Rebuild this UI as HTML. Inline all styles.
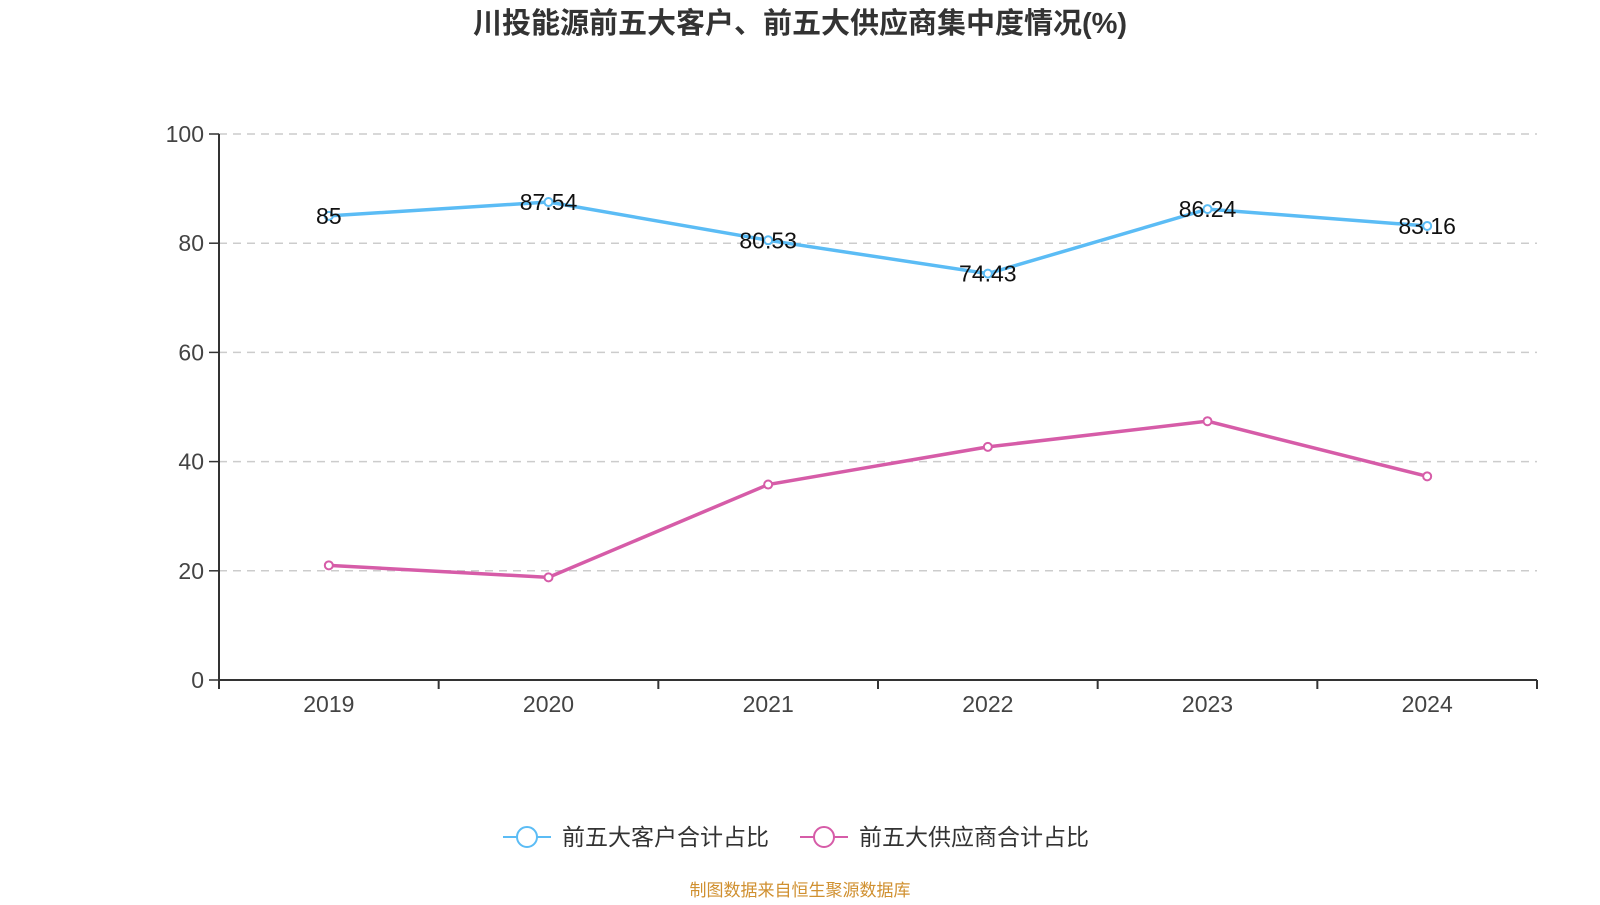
<!DOCTYPE html>
<html><head><meta charset="utf-8"><style>
body{margin:0;background:#fff;font-family:"Liberation Sans","Noto Sans CJK SC",sans-serif}
</style></head><body>
<svg id="c" width="1600" height="900" xmlns="http://www.w3.org/2000/svg">
<text x="800" y="33" text-anchor="middle" font-size="29" font-weight="bold" fill="#333" font-family="Liberation Sans,Noto Sans CJK SC,sans-serif">川投能源前五大客户、前五大供应商集中度情况(%)</text>
<g id="grid"></g><g id="axes"></g><g id="series"></g>
<g>
<line x1="503" y1="837" x2="551" y2="837" stroke="#5bbcf5" stroke-width="2"/>
<circle cx="527" cy="837" r="10" fill="#fff" stroke="#5bbcf5" stroke-width="2"/>
<text x="562" y="845" font-size="23" fill="#333" font-family="Liberation Sans,Noto Sans CJK SC,sans-serif">前五大客户合计占比</text>
<line x1="800" y1="837" x2="848" y2="837" stroke="#d65ca8" stroke-width="2"/>
<circle cx="824" cy="837" r="10" fill="#fff" stroke="#d65ca8" stroke-width="2"/>
<text x="859" y="845" font-size="23" fill="#333" font-family="Liberation Sans,Noto Sans CJK SC,sans-serif">前五大供应商合计占比</text>
</g>
<text x="800" y="896" text-anchor="middle" font-size="17" fill="#d09030" font-family="Liberation Sans,Noto Sans CJK SC,sans-serif">制图数据来自恒生聚源数据库</text>
</svg>
<script>
const categories=["2019","2020","2021","2022","2023","2024"];
const customers=[85,87.54,80.53,74.43,86.24,83.16];
const suppliers=[21.0,18.8,35.8,42.7,47.4,37.3];
const yTicks=[0,20,40,60,80,100];
const NS="http://www.w3.org/2000/svg";
const L=219,R=1537,T=134,B=680;
const bw=(R-L)/categories.length;
const xs=i=>L+bw*(i+0.5);
const ys=v=>B-(v/100)*(B-T);
function mk(tag,attrs,parent,txt){const e=document.createElementNS(NS,tag);for(const k in attrs)e.setAttribute(k,attrs[k]);if(txt!==undefined)e.textContent=txt;document.getElementById(parent).appendChild(e);return e;}
const F="Liberation Sans,Noto Sans CJK SC,sans-serif";
yTicks.forEach(t=>{
  if(t>0){const g=mk('line',{x1:L,x2:R,y1:ys(t),y2:ys(t),stroke:'#ccc','stroke-width':1.5,'stroke-dasharray':'8,6'},'grid');
  
  }
  const tk=mk('line',{x1:L-10,x2:L,y1:ys(t),y2:ys(t),stroke:'#333','stroke-width':1.5},'axes');
  
  
  const lb=mk('text',{x:L-15,y:ys(t)+8,'text-anchor':'end','font-size':23,fill:'#444','font-family':F},'axes',String(t));
  
  
});
const ya=mk('line',{x1:L,x2:L,y1:T,y2:B,stroke:'#333','stroke-width':2},'axes');


const xa=mk('line',{x1:L,x2:R,y1:B,y2:B,stroke:'#333','stroke-width':2},'axes');


for(let i=0;i<=categories.length;i++){
  const tk=mk('line',{x1:L+bw*i,x2:L+bw*i,y1:B,y2:B+9,stroke:'#333','stroke-width':2},'axes');
  
  
}
categories.forEach((c,i)=>{
  const lb=mk('text',{x:xs(i),y:B+32,'text-anchor':'middle','font-size':23,fill:'#444','font-family':F},'axes',c);
  
  
});
function series(vals,color,name,labels){
  const p=mk('polyline',{points:vals.map((v,i)=>xs(i)+','+ys(v)).join(' '),fill:'none',stroke:color,'stroke-width':3.5},'series');
  
  
  vals.forEach((v,i)=>{
    const c=mk('circle',{cx:xs(i),cy:ys(v),r:4,fill:'#fff',stroke:color,'stroke-width':2},'series');
    
    
    if(labels){const t=mk('text',{x:xs(i),y:ys(v)+8,'text-anchor':'middle','font-size':23,fill:'#111','font-family':F},'series',String(v));
    
    }
  });
}
series(customers,'#5bbcf5','customers',true);
series(suppliers,'#d65ca8','suppliers',false);
</script>
</body></html>
